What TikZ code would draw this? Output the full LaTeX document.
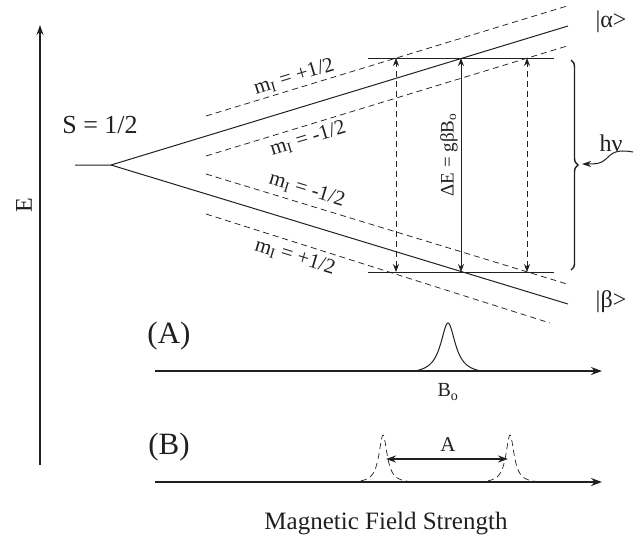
\documentclass[tikz,border=0pt]{standalone}
\usepackage{fontspec}
\setmainfont{Liberation Serif}
\usetikzlibrary{arrows.meta,decorations.pathreplacing}
\definecolor{ink}{RGB}{35,31,32}
\tikzset{
  every picture/.style={color=ink, line width=1pt},
  level/.style={line width=1pt},
  hyper/.style={line width=0.75pt, dash pattern=on 6pt off 4pt},
  trans/.style={{Stealth[length=8pt,width=6pt]}-{Stealth[length=8pt,width=6pt]}},
  axis/.style={-{Stealth[length=11pt,width=8pt]}, line width=1.8pt},
  lbl/.style={inner sep=0pt, font=\fontsize{20}{24}\selectfont},
  mlbl/.style={lbl, font=\fontsize{21}{24}\selectfont},
  big/.style={inner sep=0pt, font=\fontsize{31}{34}\selectfont},
}

\begin{document}
\begin{tikzpicture}[x=1pt, y=-1pt]
  \useasboundingbox (0,0) rectangle (644,542);
  % energy axis
  \coordinate (e0) at (40,465);
  \coordinate (e1) at (40,25);
  \draw[-{Stealth[length=10pt,width=7pt]}, line width=1.2pt] (e0) -- (e1);
  \node[lbl, rotate=90, font=\fontsize{24}{28}\selectfont] (elbl) at (24,205) {E};

  % electron Zeeman splitting
  \coordinate (s0) at (75,165);
  \coordinate (split) at (111,165);
  \coordinate (alpha) at (568,26);
  \coordinate (beta) at (568,304);
  \draw[level] (s0) -- (split) -- (alpha);
  \draw[level] (split) -- (beta);
  \node[lbl, font=\fontsize{26}{28}\selectfont] (spin) at (100,125) {S = 1/2};
  \node[lbl, font=\fontsize{24}{28}\selectfont] (ka) at (611,22) {|α>};
  \node[lbl, font=\fontsize{24}{28}\selectfont] (kb) at (611,302) {|β>};

  % hyperfine levels
  \foreach \nm/\ya/\xb/\yb in {h1/116/567/6, h2/156/567/46, h3/174/567/284, h4/214/550/323} {
    \coordinate (\nm a) at (206,\ya);
    \coordinate (\nm b) at (\xb,\yb);
    \draw[hyper] (\nm a) -- (\nm b);
  }
  \node[mlbl, rotate=17] (m1) at (294,77) {m\textsubscript{I} = +1/2};
  \node[mlbl, rotate=17] (m2) at (308,139) {m\textsubscript{I} = -1/2};
  \node[mlbl, rotate=-17] (m3) at (307,190) {m\textsubscript{I} = -1/2};
  \node[mlbl, rotate=-17] (m4) at (295,257) {m\textsubscript{I} = +1/2};

  % resonance condition
  \coordinate (t0) at (368,58);
  \coordinate (t1) at (554,58);
  \coordinate (b0) at (368,272);
  \coordinate (b1) at (554,272);
  \draw[level] (t0) -- (t1);
  \draw[level] (b0) -- (b1);
  \foreach \i/\x/\st in {1/396/hyper, 2/461/level, 3/527/hyper} {
    \coordinate (lo\i) at (\x,272);
    \coordinate (up\i) at (\x,58);
    \draw[trans, \st] (lo\i) -- (up\i);
  }
  \node[lbl, rotate=90, font=\fontsize{19}{22}\selectfont] (gap) at (449,155) {ΔE = gβB\textsubscript{o}};
  \coordinate (br0) at (571,60);
  \coordinate (br1) at (571,270);
  \draw[line width=1.4pt, decorate, decoration={brace, amplitude=7pt}] (br0) -- (br1);
  \node[lbl, font=\fontsize{24}{28}\selectfont] (hv) at (611,143) {hν};
  \coordinate (w0) at (633,152);
  \coordinate (w1) at (582,164);
  \draw[-{Stealth[length=9pt,width=6pt]}] (w0) .. controls (616,149) and (612,153) .. (606,159) .. controls (601,164) and (595,164) .. (w1);

  % (A) spectrum
  \node[big] (pa) at (169,336) {(A)};
  \coordinate (xa0) at (155,371);
  \coordinate (xa1) at (602,371);
  \draw[axis] (xa0) -- (xa1);
  \draw plot[domain=-33:33, samples=91, smooth] ({448+\x},{371-48*(1/(1+(\x/9)^2)-0.069)/0.931});
  \node[lbl] (bo) at (448,392) {B\textsubscript{o}};

  % (B) spectrum
  \node[big] (pb) at (169,447) {(B)};
  \coordinate (xb0) at (155,482);
  \coordinate (xb1) at (602,482);
  \draw[axis] (xb0) -- (xb1);
  \foreach \c in {383,510}
    \draw[hyper, line width=0.7pt] plot[domain=-32:32, samples=91, smooth] ({\c+\x},{482-47*(1/(1+(\x/5)^2)-0.024)/0.976});
  \coordinate (pk1) at (386,459);
  \coordinate (pk2) at (508,459);
  \draw[{Stealth[length=10pt,width=7pt]}-{Stealth[length=10pt,width=7pt]}, line width=1.5pt] (pk1) -- (pk2);
  \node[lbl, font=\fontsize{21}{24}\selectfont] (acpl) at (448,445) {A};
  \node[lbl, font=\fontsize{25}{28}\selectfont] (field) at (386,524) {Magnetic Field Strength};
\end{tikzpicture}
\end{document}
